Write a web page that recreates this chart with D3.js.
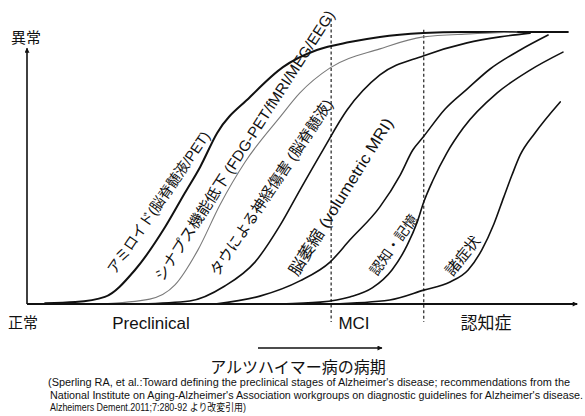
<!DOCTYPE html>
<html><head><meta charset="utf-8">
<script src="https://cdn.jsdelivr.net/npm/d3@7"></script>
<style>body{margin:0;background:#fff}svg{display:block}</style>
</head><body>
<svg id="c" width="585" height="416"></svg>
<script>
// ---- data (x: disease progression 0-100, y: abnormality 0-100) ----
const curveNames = ["amyloid","synapse","tau","atrophy","cognition","clinical"];
const curveLabels = [
  "アミロイド(脳脊髄液/PET)",
  "シナプス機能低下 (FDG-PET/fMRI/MEG/EEG)",
  "タウによる神経傷害 (脳脊髄液)",
  "脳萎縮 (volumetric MRI)",
  "認知・記憶",
  "諸症状"
];
const amyloid = [[3.3,0.3],[8.8,0.7],[14.2,2.6],[19.7,12.5],[25.2,28.3],[28.8,40.8],[31.6,50.4],[34.7,62.9],[40.7,76.1],[46.7,87.1],[52.9,93.4],[58.9,96.3],[64.4,98.2],[72.3,99.6],[79.6,100],[98.7,100]];
const synapse = [[13.3,0],[22.4,1.8],[27.0,7.0],[31.2,19.9],[35.2,36.4],[39.8,52.2],[46.2,68.8],[49.8,77.6],[55.3,86.8],[64.4,93.8],[72.3,98.2],[80.8,99.3],[89.4,100]];
const tau = [[20.6,0],[29.7,1.1],[36.1,6.6],[41.6,15.4],[46.2,29.0],[49.8,41.9],[54.0,56.6],[58.4,71.3],[64.4,84.2],[72.3,91.2],[80.3,96.0],[86.3,98.2],[91.8,99.6]];
const atrophy = [[34.3,0],[42.5,2.9],[49.8,8.5],[55.3,15.4],[58.9,23.5],[64.4,35.7],[68.1,47.4],[70.4,56.6],[72.3,61.4],[76.3,71.7],[80.3,79.0],[84.5,86.4],[90.0,93.4],[95.1,98.9]];
const cognition = [[46.2,0],[53.5,0.7],[58.9,2.6],[63.0,5.9],[66.6,12.5],[69.4,21.7],[71.2,30.1],[72.4,37.5],[74.1,45.6],[76.6,55.5],[79.6,64.7],[85.8,77.6],[91.8,86.0],[97.8,92.6]];
const clinical = [[55.3,0],[66.2,1.5],[72.4,5.1],[77.2,8.1],[80.5,12.5],[83.0,19.9],[85.2,29.4],[87.0,39.3],[88.5,47.4],[90.0,54.8],[92.7,62.9],[97.3,74.3]];
const stageNames = ["Preclinical","MCI","認知症"];
const stageBoundaries = [55.5, 72.4];
const yAxisLabels = ["異常","正常"];
const xAxisTitle = "アルツハイマー病の病期";
const citation = [
  "(Sperling RA, et al.:Toward defining the preclinical stages of Alzheimer's disease; recommendations from the",
  "National Institute on Aging-Alzheimer's Association workgroups on diagnostic guidelines for Alzheimer's disease.",
  "Alzheimers Dement.2011;7:280-92 より改変引用)"
];

// ---- layout / style ----
const series = [amyloid, synapse, tau, atrophy, cognition, clinical];
const curveStyle = [
  {stroke:"#111", w:2.0},
  {stroke:"#7a7a7a", w:1.1},
  {stroke:"#111", w:1.6},
  {stroke:"#111", w:1.6},
  {stroke:"#111", w:1.6},
  {stroke:"#111", w:1.6}
];
const labelLayout = [
  {x:115,   y:275, a:-55.5, len:169, fs:14.5},
  {x:163,   y:282, a:-57.2, len:318, fs:15},
  {x:218,   y:277, a:-56.3, len:208, fs:15},
  {x:297.5, y:277, a:-58.1, len:182, fs:16},
  {x:377,   y:276.6, a:-54.3, len:71, fs:14},
  {x:452.4, y:277, a:-51.6, len:46, fs:15}
];
const stageLabelX = [151, 354, 486];
const FONT = "'Liberation Sans', Arial, 'Noto Sans CJK JP', sans-serif";

const svg = d3.select("#c");
const x = d3.scaleLinear().domain([0,100]).range([27,575]);
const y = d3.scaleLinear().domain([0,100]).range([304,32]);

// arrow markers
const defs = svg.append("defs");
defs.append("marker").attr("id","ah").attr("viewBox","0 0 10 10").attr("refX",9).attr("refY",5)
  .attr("markerWidth",7).attr("markerHeight",5).attr("markerUnits","userSpaceOnUse").attr("orient","auto")
  .append("path").attr("d","M0,0L10,5L0,10z").attr("fill","#111");

// stage boundary dashed lines
svg.selectAll("line.stage").data(stageBoundaries).join("line")
  .attr("class","stage")
  .attr("x1",d=>x(d)).attr("x2",d=>x(d))
  .attr("y1",(d,i)=> i===0 ? y(105) : y(100.8)).attr("y2",y(-6.6))
  .attr("stroke","#222").attr("stroke-width",1.2).attr("stroke-dasharray","3,2.5");

// curves
const line = d3.line().x(d=>x(d[0])).y(d=>y(d[1])).curve(d3.curveMonotoneX);
svg.selectAll("path.curve").data(series).join("path")
  .attr("class","curve")
  .attr("d",line).attr("fill","none")
  .attr("stroke",(d,i)=>curveStyle[i].stroke)
  .attr("stroke-width",(d,i)=>curveStyle[i].w)
  .attr("stroke-linecap","round");

// axes
svg.append("line").attr("x1",x(0)).attr("x2",x(0)).attr("y1",y(0)).attr("y2",y(94))
  .attr("stroke","#111").attr("stroke-width",1.6).attr("marker-end","url(#ah)");
svg.append("line").attr("x1",x(0)).attr("x2",x(100.4)).attr("y1",y(0)).attr("y2",y(0))
  .attr("stroke","#111").attr("stroke-width",1.8).attr("marker-end","url(#ah)");

// curve labels
svg.selectAll("text.cl").data(curveLabels).join("text")
  .attr("class","cl")
  .attr("transform",(d,i)=>`translate(${labelLayout[i].x},${labelLayout[i].y}) rotate(${labelLayout[i].a})`)
  .attr("textLength",(d,i)=>labelLayout[i].len).attr("lengthAdjust","spacingAndGlyphs")
  .attr("font-family",FONT).attr("font-size",(d,i)=>labelLayout[i].fs).attr("fill","#111")
  .text(d=>d);

// y labels
svg.append("text").attr("x",26).attr("y",43).attr("text-anchor","middle")
  .attr("font-family",FONT).attr("font-size",15).attr("fill","#111").text(yAxisLabels[0]);
svg.append("text").attr("x",23).attr("y",328).attr("text-anchor","middle")
  .attr("font-family",FONT).attr("font-size",15).attr("fill","#111").text(yAxisLabels[1]);

// stage labels
svg.selectAll("text.st").data(stageNames).join("text")
  .attr("class","st").attr("x",(d,i)=>stageLabelX[i]).attr("y",329)
  .attr("text-anchor","middle").attr("font-family",FONT).attr("font-size",17).attr("fill","#111")
  .text(d=>d);

// progression arrow + title
svg.append("line").attr("x1",258).attr("x2",382).attr("y1",348).attr("y2",348)
  .attr("stroke","#111").attr("stroke-width",1.6).attr("marker-end","url(#ah)");
svg.append("text").attr("x",298).attr("y",373).attr("text-anchor","middle")
  .attr("font-family",FONT).attr("font-size",16).attr("fill","#111").text(xAxisTitle);

// citation
const citeLen = [522, 533, 196];
svg.selectAll("text.cite").data(citation).join("text")
  .attr("class","cite").attr("x",(d,i)=> i===0 ? 48 : 50).attr("y",(d,i)=>386+i*12.5)
  .attr("textLength",(d,i)=>citeLen[i]).attr("lengthAdjust","spacingAndGlyphs")
  .attr("font-family",FONT).attr("font-size",10).attr("fill","#111")
  .text(d=>d);
</script>
</body></html>
